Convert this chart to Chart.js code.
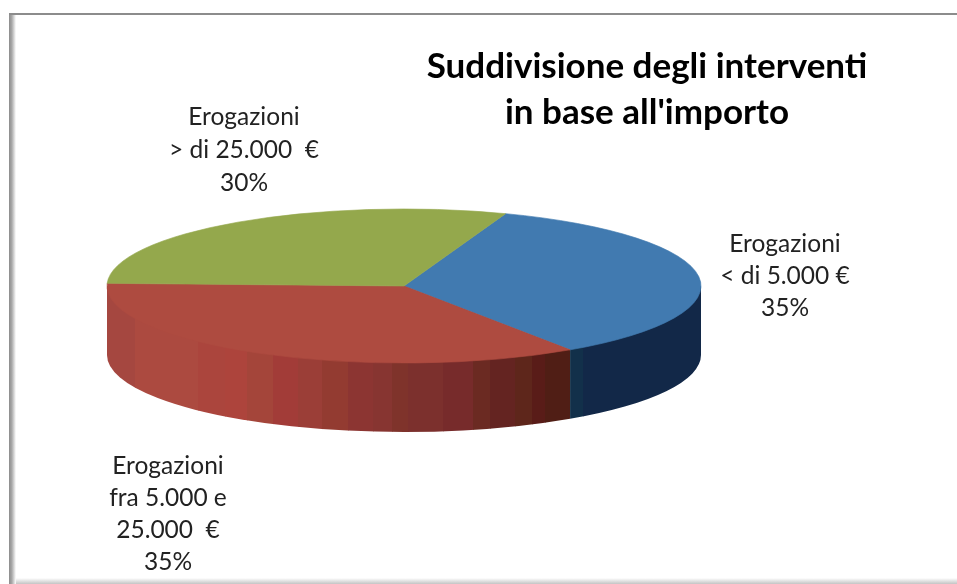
<!DOCTYPE html>
<html>
<head>
<meta charset="utf-8">
<style>
  html, body { margin: 0; padding: 0; background: #fff; overflow: hidden; }
  #grafico { display: block; }
</style>
</head>
<body>
<div style="width:957px;height:584px"><canvas id="grafico"></canvas></div>
<script src="https://cdn.jsdelivr.net/npm/chart.js@4"></script>
<script>
// Dati
const categorie = [
  ['Erogazioni', '< di 5.000 €'],
  ['Erogazioni', 'fra 5.000 e', '25.000  €'],
  ['Erogazioni', '> di 25.000  €']
];
const valori = [35, 35, 30];
const titolo = ['Suddivisione degli interventi', "in base all'importo"];

// Stile
const coloriTop = ['#417ab0', '#ae4b40', '#94a84c'];
const schiacciamento = 77 / 297;
const spessore = 69;
const posEtichette = [
  { x: 785, y: 244, riga: 32 },
  { x: 168, y: 466, riga: 32 },
  { x: 244, y: 117, riga: 33 }
];
// bande verticali della parete [x fine, colore]
const bande = [
  [[583, '#12304a'], [702, '#122848']],
  [[135, '#a54740'], [198, '#ac4a40'], [225, '#ab453d'], [247, '#ad443c'], [273, '#a4453a'],
   [298, '#a23c38'], [322, '#9b3e37'], [348, '#933b31'], [373, '#8c3532'], [392, '#873531'],
   [408, '#7f332b'], [443, '#7c302d'], [473, '#772b2b'], [490, '#6b2a22'], [515, '#642421'],
   [532, '#5e261b'], [545, '#591c18'], [570, '#501e15']],
  []
];

// Cornice del grafico
const cornice = {
  id: 'cornice',
  beforeDraw(chart) {
    const ctx = chart.ctx;
    ctx.save();
    ctx.fillStyle = '#fff';
    ctx.fillRect(0, 0, 957, 584);
    ctx.fillStyle = '#8c8c8c';
    ctx.fillRect(9, 13, 948, 2);
    const sx = ctx.createLinearGradient(9, 0, 16, 0);
    sx.addColorStop(0, '#8c8c8c');
    sx.addColorStop(0.4, '#a8a8a8');
    sx.addColorStop(1, '#ffffff');
    ctx.fillStyle = sx;
    ctx.fillRect(9, 15, 7, 569);
    const sy = ctx.createLinearGradient(0, 578, 0, 584);
    sy.addColorStop(0, '#ffffff');
    sy.addColorStop(1, '#c4c4c4');
    ctx.fillStyle = sy;
    ctx.fillRect(16, 578, 941, 6);
    ctx.restore();
  }
};

// Pareti laterali e torta schiacciata
const torta3d = {
  id: 'torta3d',
  beforeDatasetsDraw(chart) {
    const ctx = chart.ctx;
    const archi = chart.getDatasetMeta(0).data;
    ctx.save();
    archi.forEach((arco, i) => {
      const rx = arco.outerRadius;
      const ry = rx * schiacciamento;
      const a0 = Math.max(arco.startAngle, 0);
      const a1 = Math.min(arco.endAngle, Math.PI);
      if (a1 <= a0 || !bande[i].length) return;
      // la parete arriva fin sotto la faccia superiore, così non resta un filo bianco
      ctx.save();
      ctx.beginPath();
      ctx.moveTo(arco.x, arco.y);
      ctx.lineTo(arco.x + rx * Math.cos(a0), arco.y + ry * Math.sin(a0));
      ctx.ellipse(arco.x, arco.y + spessore, rx, ry, 0, a0, a1);
      ctx.lineTo(arco.x + rx * Math.cos(a1), arco.y + ry * Math.sin(a1));
      ctx.closePath();
      ctx.clip();
      let xPrec = i === 0 ? 570 : arco.x - rx - 2;
      bande[i].forEach(([xFine, colore]) => {
        ctx.fillStyle = colore;
        ctx.fillRect(xPrec, 200, xFine - xPrec + 0.5, 300);
        xPrec = xFine;
      });
      ctx.restore();
    });
    ctx.restore();
    // le fette vengono disegnate dalla libreria con la scala verticale
    const a = archi[0];
    ctx.save();
    ctx.translate(a.x, a.y);
    ctx.scale(1, schiacciamento);
    ctx.translate(-a.x, -a.y);
  },
  afterDatasetsDraw(chart) {
    chart.ctx.restore();
  }
};

// Titolo ed etichette
const testi = {
  id: 'testi',
  afterDraw(chart) {
    const ctx = chart.ctx;
    ctx.save();
    ctx.textAlign = 'center';
    ctx.textBaseline = 'middle';
    ctx.fillStyle = '#000';
    ctx.font = 'bold 35px Lato';
    titolo.forEach((riga, i) => ctx.fillText(riga, 647, 67 + i * 46));
    ctx.fillStyle = '#222';
    ctx.font = '24.5px Lato';
    categorie.forEach((righe, i) => {
      const p = posEtichette[i];
      [...righe, valori[i] + '%'].forEach((riga, k) => {
        ctx.fillText(riga, p.x, p.y + k * p.riga);
      });
    });
    ctx.restore();
  }
};

new Chart(document.getElementById('grafico').getContext('2d'), {
  type: 'pie',
  data: {
    labels: categorie.map(c => c.join(' ')),
    datasets: [{
      data: valori,
      backgroundColor: coloriTop,
      borderColor: coloriTop,
      borderWidth: 1,
      clip: false
    }]
  },
  options: {
    responsive: true,
    maintainAspectRatio: false,
    animation: false,
    rotation: 20,
    radius: 297,
    layout: { padding: { left: 0, top: 0, right: 149, bottom: 12 } },
    plugins: {
      legend: { display: false },
      tooltip: { enabled: false }
    }
  },
  plugins: [cornice, torta3d, testi]
});
</script>
</body>
</html>
